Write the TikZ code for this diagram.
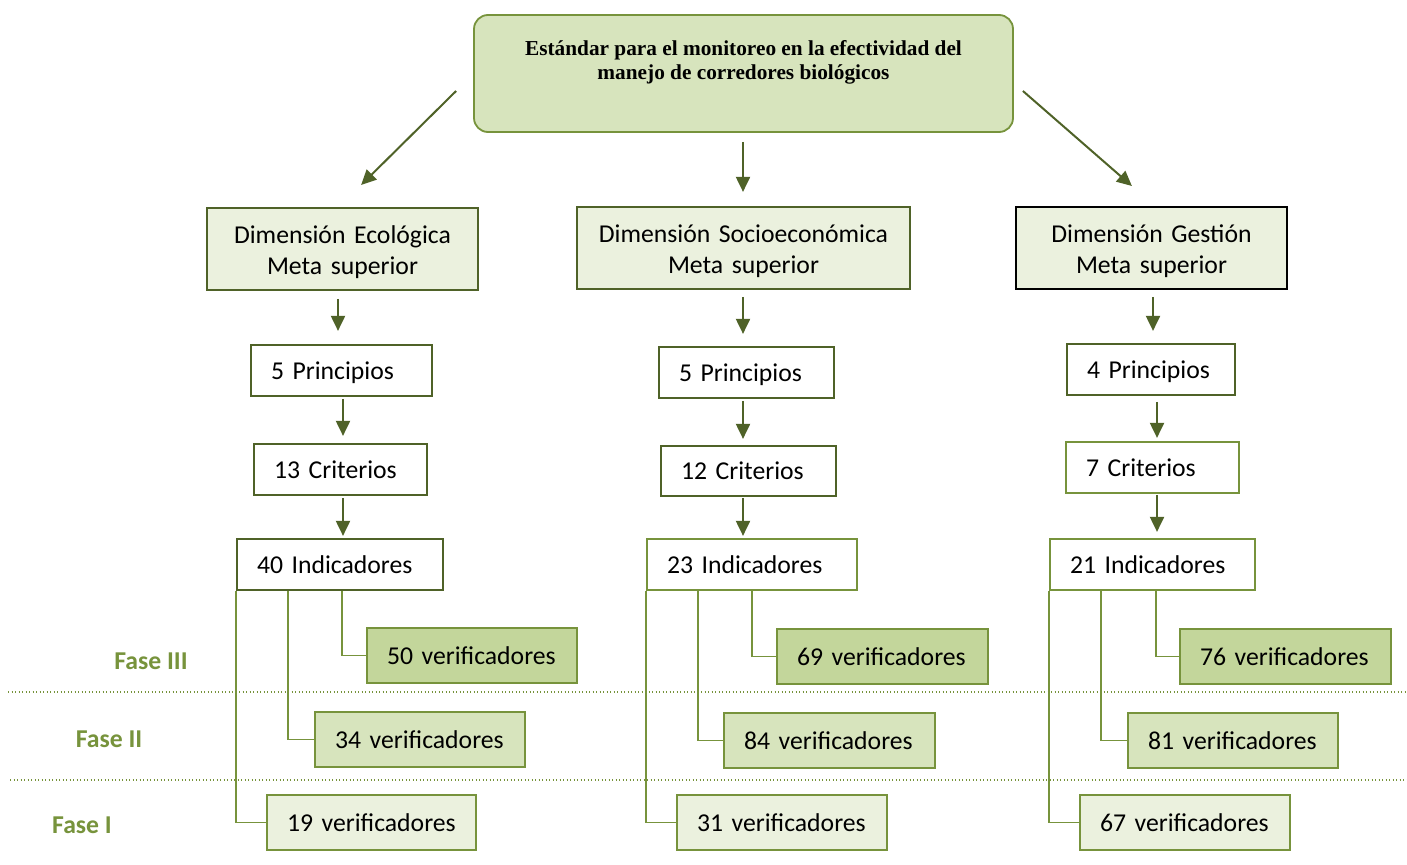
\documentclass[tikz,border=0pt]{standalone}
\usepackage{fontspec}
\setmainfont{Carlito}
\newfontfamily\titlefont{Liberation Serif}
\usetikzlibrary{arrows.meta}
\definecolor{dkg}{RGB}{79,98,40}
\definecolor{olv}{RGB}{119,147,60}
\definecolor{fillA}{RGB}{215,228,189}
\definecolor{fillB}{RGB}{195,214,155}
\definecolor{fillC}{RGB}{235,241,222}
\newcommand\mybox[7]{%
  \pgfmathsetmacro\mytw{#5-40}%
  \node[#2,text width=\mytw pt,minimum height=#6pt] (#1) at ({#3+#5/2},{#4+#6/2}) {#7};}
\begin{document}
\begin{tikzpicture}[x=1pt,y=-1pt,
  every node/.style={font=\fontsize{25.7}{31}\selectfont},
  basebox/.style={draw,line width=1.8pt,inner xsep=20pt,inner ysep=0pt},
  dimbox/.style={basebox,draw=dkg,fill=fillC,align=center,text depth=29pt},
  lbox/.style={basebox,fill=white,align=left,text depth=0pt},
  verbox/.style={basebox,draw=olv,align=left,text depth=0pt},
  arr/.style={draw=dkg,line width=2pt,-{Triangle[length=15pt,width=14pt]}},
  conn/.style={draw=olv,line width=1.9pt},
  dotline/.style={draw=olv,line width=1.3pt,dash pattern=on 1.3pt off 2.2pt},
  fase/.style={text=olv,font=\fontsize{25.7}{31}\selectfont\bfseries,anchor=base}]
\useasboundingbox (0,0) rectangle (1407,864);

% phase separators
\draw[dotline] (8,692) -- (1407,692);
\draw[dotline] (10,780) -- (1407,780);

% top box
\node[draw=olv,fill=fillA,line width=1.8pt,rounded corners=14pt,
  minimum width=539pt,minimum height=117pt,
  label={[name=ttl,anchor=north,yshift=-23pt,align=center,
    font=\titlefont\bfseries\fontsize{21.3}{23.5}\selectfont]north:{Estándar para el monitoreo en la efectividad del\\manejo de corredores biológicos}}]
  (top) at (743.5,73.5) {};

% dimension boxes
\mybox{dimE}{dimbox}{207}{208}{271}{82}{Dimensión Ecológica\\Meta superior}
\mybox{dimS}{dimbox}{577}{207}{333}{82}{Dimensión Socioeconómica\\Meta superior}
\mybox{dimG}{dimbox,draw=black}{1016}{207}{271}{82}{Dimensión Gestión\\Meta superior}

% principios
\mybox{prE}{lbox,draw=dkg}{251}{345}{181}{51}{5 Principios}
\mybox{prS}{lbox,draw=dkg}{659}{347}{175}{51}{5 Principios}
\mybox{prG}{lbox,draw=dkg}{1067}{344}{168}{51}{4 Principios}

% criterios
\mybox{crE}{lbox,draw=dkg}{254}{444}{173}{51}{13 Criterios}
\mybox{crS}{lbox,draw=dkg}{661}{446}{175}{50}{12 Criterios}
\mybox{crG}{lbox,draw=olv}{1066}{442}{173}{51}{7 Criterios}

% indicadores
\mybox{inE}{lbox,draw=dkg}{237}{539}{206}{51}{40 Indicadores}
\mybox{inS}{lbox,draw=olv}{647}{539}{210}{51}{23 Indicadores}
\mybox{inG}{lbox,draw=olv}{1050}{539}{205}{51}{21 Indicadores}

% verificadores
\mybox{v3E}{verbox,fill=fillB}{367}{628}{210}{55}{50 verificadores}
\mybox{v2E}{verbox,fill=fillA}{315}{712}{210}{55}{34 verificadores}
\mybox{v1E}{verbox,fill=fillC}{267}{795}{209}{55}{19 verificadores}
\mybox{v3S}{verbox,fill=fillB}{777}{629}{211}{55}{69 verificadores}
\mybox{v2S}{verbox,fill=fillA}{724}{713}{211}{55}{84 verificadores}
\mybox{v1S}{verbox,fill=fillC}{677}{795}{210}{55}{31 verificadores}
\mybox{v3G}{verbox,fill=fillB}{1180}{629}{211}{55}{76 verificadores}
\mybox{v2G}{verbox,fill=fillA}{1128}{713}{210}{55}{81 verificadores}
\mybox{v1G}{verbox,fill=fillC}{1080}{795}{210}{55}{67 verificadores}

% phase labels
\node[fase] (f3) at (151,669) {Fase III};
\node[fase] (f2) at (109,747) {Fase II};
\node[fase] (f1) at (82,833) {Fase I};

% arrows from top
\draw[arr] (top.west) ++(-17,17.5) -- ++(-95,94);
\draw[arr] (top.south) ++(-0.5,9) -- ++(0,50);
\draw[arr] (top.east) ++(9,17.5) -- ++(109,95);

% vertical arrows
\draw[arr] (dimE.south) ++(-4.5,8) -- ++(0,32);
\draw[arr] (dimS.south) ++(-0.5,7) -- ++(0,37);
\draw[arr] (dimG.south) ++(1.5,7) -- ++(0,34);
\draw[arr] (prE.south) ++(1.5,2) -- ++(0,37);
\draw[arr] (prS.south) ++(-3.5,2) -- ++(0,38);
\draw[arr] (prG.south) ++(6,6) -- ++(0,36);
\draw[arr] (crE.south) ++(2.5,2) -- ++(0,38);
\draw[arr] (crS.south) ++(-5.5,1) -- ++(0,38);
\draw[arr] (crG.south) ++(4.5,1) -- ++(0,37);

% connectors to verificadores
\draw[conn] ([xshift=106pt]inE.south west) |- (v3E.west);
\draw[conn] ([xshift=52pt]inE.south west) |- (v2E.west);
\draw[conn] (inE.south west) |- (v1E.west);
\draw[conn] ([xshift=106pt]inS.south west) |- (v3S.west);
\draw[conn] ([xshift=52pt]inS.south west) |- (v2S.west);
\draw[conn] (inS.south west) |- (v1S.west);
\draw[conn] ([xshift=107pt]inG.south west) |- (v3G.west);
\draw[conn] ([xshift=52pt]inG.south west) |- (v2G.west);
\draw[conn] (inG.south west) |- (v1G.west);
\end{tikzpicture}
\end{document}
